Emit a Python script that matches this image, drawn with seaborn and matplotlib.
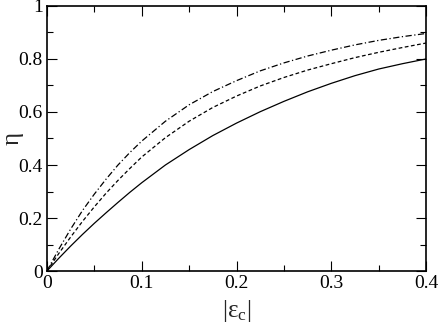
import numpy as np
import pandas as pd
import seaborn as sns
import matplotlib.pyplot as plt
from matplotlib.ticker import MultipleLocator

# values
eps_c = [0.0, 0.0125, 0.025, 0.0375, 0.05, 0.0625, 0.075, 0.0875, 0.1, 0.125, 0.15,
         0.175, 0.2, 0.225, 0.25, 0.275, 0.3, 0.325, 0.35, 0.375, 0.4]
eta_solid = [0.0, 0.048, 0.094, 0.138, 0.18, 0.22, 0.259, 0.297, 0.333, 0.40, 0.458,
             0.511, 0.558, 0.601, 0.64, 0.676, 0.708, 0.737, 0.762, 0.782, 0.80]
eta_dashed = [0.0, 0.066, 0.128, 0.187, 0.242, 0.294, 0.342, 0.387, 0.43, 0.503, 0.565,
              0.617, 0.66, 0.698, 0.73, 0.758, 0.782, 0.805, 0.825, 0.843, 0.86]
eta_dashdot = [0.0, 0.082, 0.158, 0.228, 0.29, 0.347, 0.40, 0.447, 0.49, 0.565, 0.627,
               0.677, 0.718, 0.755, 0.785, 0.811, 0.833, 0.853, 0.87, 0.884, 0.896]
x_ticks = [0, 0.1, 0.2, 0.3, 0.4]
x_ticklabels = ['0', '0.1', '0.2', '0.3', '0.4']
y_ticks = [0, 0.2, 0.4, 0.6, 0.8, 1.0]
y_ticklabels = ['0', '0.2', '0.4', '0.6', '0.8', '1']

sns.set_style("ticks")
plt.rcParams['font.family'] = ['Liberation Serif', 'DejaVu Serif']
plt.rcParams['mathtext.fontset'] = 'custom'
plt.rcParams['mathtext.rm'] = 'Liberation Serif'
plt.rcParams['mathtext.default'] = 'rm'

fig = plt.figure(figsize=(4.38, 3.27), dpi=100)
ax = fig.add_axes([0.107, 0.171, 0.866, 0.811])

sns.lineplot(x=eps_c, y=eta_solid, ax=ax, color='black', linewidth=0.9)
sns.lineplot(x=eps_c, y=eta_dashed, ax=ax, color='black', linewidth=0.9,
             linestyle=(0, (3, 2)))
sns.lineplot(x=eps_c, y=eta_dashdot, ax=ax, color='black', linewidth=0.9,
             linestyle=(0, (5, 2, 1, 2)))

ax.set_xlim(0, 0.4)
ax.set_ylim(0, 1)
ax.set_xticks(x_ticks)
ax.set_xticklabels(x_ticklabels)
ax.set_yticks(y_ticks)
ax.set_yticklabels(y_ticklabels)
ax.xaxis.set_minor_locator(MultipleLocator(0.05))
ax.yaxis.set_minor_locator(MultipleLocator(0.1))

ax.tick_params(which='both', direction='in', top=True, right=True,
               labelsize=14, width=0.8, pad=3, colors='black')
ax.tick_params(which='major', length=7)
ax.tick_params(which='minor', length=4)
for s in ax.spines.values():
    s.set_linewidth(1.2)
    s.set_color('black')

ax.set_xlabel('$|ε_c|$', fontsize=18)
ax.xaxis.set_label_coords(0.5, -0.1)
ax.set_ylabel('η', fontsize=18)
ax.yaxis.set_label_coords(-0.062, 0.5)

fig.savefig('out.png', dpi=100)
